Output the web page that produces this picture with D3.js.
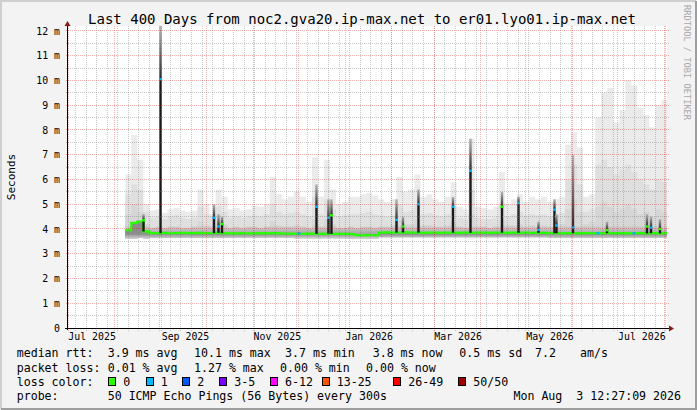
<!DOCTYPE html>
<html>
<head>
<meta charset="utf-8">
<script src="https://cdn.jsdelivr.net/npm/d3@7"></script>
<style>
html, body { margin: 0; padding: 0; background: #f3f3f3; }
svg { display: block; font-family: "DejaVu Sans Mono", monospace; }
</style>
</head>
<body>
<svg id="chart" width="697" height="410"></svg>
<script>
// smoke data, 4-day bins starting 2025-08-08 (milliseconds)
const smokeMax = [6.2, 7.8, 6.8, 5.0, 4.75, 4.8, 4.65, 4.8, 4.85, 4.75,
  4.7, 4.75, 5.6, 5.0, 4.6, 5.6, 5.3, 4.8, 4.85, 4.75,
  4.8, 4.95, 4.9, 5.0, 6.1, 5.4, 5.2, 5.3, 5.5, 5.3,
  5.1, 6.9, 5.3, 6.8, 5.6, 5.0, 5.1, 5.3, 5.3, 5.4,
  5.45, 5.35, 5.2, 5.1, 5.2, 6.1, 5.5, 5.6, 6.2, 5.3,
  5.4, 5.2, 5.1, 5.3, 5.9, 4.9, 4.8, 7.65, 4.9, 4.85,
  4.8, 4.9, 6.3, 5.0, 5.2, 5.4, 5.1, 5.3, 5.2, 5.3,
  5.1, 5.2, 5.3, 7.4, 7.9, 7.3, 5.3, 5.4, 8.5, 9.5,
  9.7, 8.3, 8.8, 10.0, 9.8, 8.9, 8.6, 8.1, 9.0, 9.2];
const smokeUpper = [5.4, 5.8, 5.6, 4.7, 4.45, 4.5, 4.4, 4.5, 4.55, 4.45,
  4.4, 4.45, 4.9, 4.6, 4.5, 4.9, 4.7, 4.45, 4.5, 4.45,
  4.5, 4.55, 4.5, 4.6, 5.0, 4.7, 4.6, 4.65, 4.7, 4.6,
  4.5, 5.3, 4.6, 5.2, 4.8, 4.5, 4.55, 4.6, 4.6, 4.65,
  4.7, 4.6, 4.55, 4.5, 4.55, 5.0, 4.7, 4.75, 5.0, 4.6,
  4.65, 4.55, 4.5, 4.6, 4.9, 4.45, 4.4, 5.6, 4.45, 4.4,
  4.4, 4.45, 5.0, 4.5, 4.6, 4.7, 4.55, 4.6, 4.55, 4.6,
  4.5, 4.6, 4.65, 6.0, 6.6, 5.8, 4.7, 4.8, 6.6, 6.8,
  6.5, 6.2, 6.4, 6.6, 6.3, 6.0, 5.8, 5.6, 6.0, 5.9];
const smokeInner = [4.6, 5.0, 4.7, 4.2, 4.05, 4.1, 4.05, 4.1, 4.1, 4.05,
  4.05, 4.1, 4.3, 4.15, 4.1, 4.3, 4.2, 4.05, 4.1, 4.05,
  4.1, 4.1, 4.05, 4.1, 4.3, 4.15, 4.1, 4.1, 4.15, 4.1,
  4.05, 4.4, 4.1, 4.4, 4.2, 4.05, 4.05, 4.1, 4.05, 4.1,
  4.1, 4.05, 4.1, 4.1, 4.15, 4.35, 4.2, 4.2, 4.4, 4.15,
  4.15, 4.1, 4.1, 4.15, 4.3, 4.1, 4.05, 4.6, 4.1, 4.1,
  4.05, 4.1, 4.35, 4.15, 4.15, 4.2, 4.1, 4.15, 4.1, 4.15,
  4.1, 4.15, 4.2, 4.8, 5.2, 4.7, 4.2, 4.3, 4.9, 5.1,
  4.9, 4.7, 4.8, 5.0, 4.8, 4.6, 4.7, 4.5, 4.8, 4.7];
const smokeLow = [3.62, 3.62, 3.64, 3.62, 3.65, 3.65, 3.65, 3.65, 3.65, 3.65,
  3.65, 3.65, 3.65, 3.65, 3.65, 3.65, 3.65, 3.65, 3.64, 3.64,
  3.64, 3.64, 3.64, 3.64, 3.64, 3.64, 3.64, 3.64, 3.63, 3.63,
  3.63, 3.63, 3.63, 3.63, 3.63, 3.63, 3.63, 3.62, 3.6, 3.6,
  3.6, 3.6, 3.67, 3.67, 3.67, 3.67, 3.67, 3.67, 3.67, 3.67,
  3.67, 3.67, 3.67, 3.67, 3.67, 3.67, 3.67, 3.67, 3.67, 3.67,
  3.67, 3.67, 3.67, 3.67, 3.67, 3.67, 3.67, 3.67, 3.67, 3.67,
  3.65, 3.65, 3.65, 3.65, 3.65, 3.65, 3.65, 3.65, 3.65, 3.65,
  3.65, 3.65, 3.65, 3.65, 3.65, 3.65, 3.65, 3.65, 3.65, 3.65];
const median = [3.95, 4.25, 4.3, 3.9, 3.83, 3.83, 3.84, 3.83, 3.83, 3.84,
  3.83, 3.83, 3.84, 3.83, 3.83, 3.84, 3.83, 3.82, 3.82, 3.83,
  3.82, 3.82, 3.83, 3.82, 3.83, 3.82, 3.81, 3.81, 3.8, 3.8,
  3.81, 3.8, 3.8, 3.81, 3.8, 3.8, 3.8, 3.79, 3.75, 3.74,
  3.75, 3.75, 3.85, 3.86, 3.85, 3.85, 3.86, 3.85, 3.85, 3.84,
  3.85, 3.85, 3.84, 3.85, 3.85, 3.84, 3.85, 3.84, 3.85, 3.85,
  3.84, 3.85, 3.85, 3.84, 3.85, 3.84, 3.85, 3.84, 3.84, 3.84,
  3.83, 3.83, 3.82, 3.83, 3.83, 3.82, 3.83, 3.83, 3.82, 3.83,
  3.83, 3.82, 3.83, 3.82, 3.83, 3.83, 3.82, 3.83, 3.82, 3.83];

// short bursts: median of the burst, top of the dark smoke above it, loss class
const spikeDates = ["2025-08-20T03:00", "2025-08-31T10:00", "2025-10-05T22:00", "2025-10-08T22:00",
  "2025-10-11T05:30", "2025-12-01T08:30", "2025-12-12T23:00", "2025-12-20T22:00", "2025-12-22T22:00",
  "2026-02-04T02:00", "2026-02-08T09:00", "2026-02-18T16:00", "2026-03-13T14:00", "2026-03-25T05:00",
  "2026-04-15T03:00", "2026-04-26T02:00", "2026-05-09T08:30", "2026-05-19T23:00", "2026-05-21T07:00",
  "2026-06-01T06:00", "2026-06-17T20:00", "2026-06-23T20:00", "2026-07-11T18:00", "2026-07-20T09:00",
  "2026-07-23T01:00", "2026-07-29T00:00"];
const spikeMed = [4.35, 10.05, 4.45, 4.1, 4.2, 3.82, 4.9, 4.45, 4.55, 4.37, 4.1, 5.0, 4.9, 6.35,
  4.9, 5.05, 3.97, 4.78, 4.14, 4.06, 3.83, 3.95, 3.83, 4.1, 4.05, 4.0];
const spikeTop = [4.6, 12.2, 5.0, 4.6, 4.5, 3.82, 5.8, 5.2, 5.2, 5.2, 4.5, 5.6, 5.3, 7.65,
  5.5, 5.3, 4.3, 5.2, 4.6, 7.0, 3.83, 4.3, 3.83, 4.6, 4.5, 4.4];
const spikeLoss = [0, 1, 1, 1, 0, 1, 1, 1, 0, 1, 0, 1, 1, 1, 0, 1, 1, 1, 1, 1, 1, 0, 1, 0, 1, 0];

const yTicks = d3.range(0, 13);
const lossColors = ["#26ff00", "#00b8ff", "#0059ff", "#7e00ff", "#ff00ff", "#ff5500", "#ff0000", "#a10000"];
const lossLabels = ["0", "1", "2", "3-5", "6-12", "13-25", "26-49", "50/50"];
const rttStats = ["3.9 ms avg", "10.1 ms max", "3.7 ms min", "3.8 ms now", "0.5 ms sd", "7.2", "am/s"];
const lossStats = ["0.01 % avg", "1.27 % max", "0.00 % min", "0.00 % now"];

const svg = d3.select("#chart");
const plot = { left: 67, right: 667, top: 26, bottom: 328 };

const x = d3.scaleTime()
  .domain([new Date(2025, 5, 30, 8), new Date(2026, 7, 2, 16)])
  .range([plot.left, plot.right]);
const y = d3.scaleLinear().domain([0, 12.2]).range([plot.bottom, plot.top]);
const parse = d3.timeParse("%Y-%m-%dT%H:%M");

//background and 3d frame
svg.append("rect").attr("width", 697).attr("height", 410).attr("fill", "#f3f3f3");
svg.append("path").attr("d", "M1,409V1H696").attr("fill", "none").attr("stroke", "#cfcfcf").attr("stroke-width", 2);
svg.append("path").attr("d", "M1,409H696V1").attr("fill", "none").attr("stroke", "#9e9e9e").attr("stroke-width", 2);
svg.append("rect").attr("x", plot.left).attr("y", plot.top)
  .attr("width", plot.right - plot.left).attr("height", plot.bottom - plot.top).attr("fill", "#fff");

const defs = svg.append("defs");
defs.append("clipPath").attr("id", "clip").append("rect")
  .attr("x", plot.left).attr("y", plot.top)
  .attr("width", plot.right - plot.left).attr("height", plot.bottom - plot.top);
function vGrad(id, y1, y2, c1, c2) {
  const lg = defs.append("linearGradient").attr("id", id)
    .attr("gradientUnits", "userSpaceOnUse")
    .attr("x1", 0).attr("x2", 0).attr("y1", y1).attr("y2", y2);
  lg.append("stop").attr("offset", 0).attr("stop-color", c1);
  lg.append("stop").attr("offset", 1).attr("stop-color", c2);
}
vGrad("innerGrad", y(3.8), y(4.15), "#a4a4a4", "#d6d6d6");
vGrad("lowGrad", y(3.8), y(3.62), "#8c8c8c", "#d0d0d0");
const sg = defs.append("linearGradient").attr("id", "spikeGrad")
  .attr("x1", 0).attr("x2", 0).attr("y1", 1).attr("y2", 0);
sg.append("stop").attr("offset", 0).attr("stop-color", "#2a2a2a");
sg.append("stop").attr("offset", 1).attr("stop-color", "#b4b4b4");

//dotted grid as 1px pixel patterns
function dots(id, w, h, color) {
  defs.append("pattern").attr("id", id).attr("patternUnits", "userSpaceOnUse")
    .attr("width", w).attr("height", h)
    .append("rect").attr("width", 1).attr("height", 1).attr("fill", color);
}
const minorCol = "rgba(120,120,120,0.4)", majorCol = "rgba(235,0,0,0.3)";
dots("hMinor", 2, 1, minorCol);
dots("vMinor", 1, 2, minorCol);
dots("hMajor", 2, 1, majorCol);
dots("vMajor", 1, 2, majorCol);

//build the bins
const firstBin = new Date(2025, 7, 8);
const bins = smokeMax.map((v, i) => ({
  date: d3.timeDay.offset(firstBin, 4 * i),
  max: v, upper: smokeUpper[i], inner: smokeInner[i], low: smokeLow[i], median: median[i]
}));
bins.push(Object.assign({}, bins[bins.length - 1], { date: x.domain()[1] }));

const g = svg.append("g").attr("clip-path", "url(#clip)");
function band(lo, hi, fill) {
  g.append("path").datum(bins)
    .attr("fill", fill)
    .attr("d", d3.area().curve(d3.curveStepAfter)
      .x(d => x(d.date)).y0(d => y(d[lo])).y1(d => y(d[hi])));
}
band("low", "max", "#ebebeb");
band("low", "upper", "#dfdfdf");
band("low", "inner", "url(#innerGrad)");
band("low", "median", "url(#lowGrad)");

//grid
const gridG = svg.append("g").attr("shape-rendering", "crispEdges");
function hLine(v, fill) {
  gridG.append("rect").attr("x", plot.left - 2).attr("width", plot.right - plot.left + 5)
    .attr("y", Math.floor(y(v))).attr("height", 1).attr("fill", fill);
}
function vLine(d, fill) {
  gridG.append("rect").attr("x", Math.floor(x(d))).attr("width", 1)
    .attr("y", plot.top).attr("height", plot.bottom - plot.top + 3).attr("fill", fill);
}
d3.range(0.5, 12.5, 1).forEach(v => hLine(v, "url(#hMinor)"));
d3.timeSunday.range(x.domain()[0], x.domain()[1]).forEach(d => vLine(d, "url(#vMinor)"));
yTicks.forEach(v => hLine(v, "url(#hMajor)"));
const months = d3.timeMonth.range(x.domain()[0], x.domain()[1]);
months.forEach(d => vLine(d, "url(#vMajor)"));

//median line
g.append("path").datum(bins)
  .attr("fill", "none").attr("stroke", lossColors[0]).attr("stroke-width", 2.2)
  .attr("d", d3.line().curve(d3.curveStepAfter).x(d => x(d.date)).y(d => y(d.median)));

//bursts
const binAt = d3.bisector(d => d.date).right;
spikeDates.forEach((s, i) => {
  const t = parse(s);
  const cx = x(t);
  const base = bins[Math.max(0, binAt(bins, t) - 1)].median;
  if (spikeTop[i] > spikeMed[i]) {
    g.append("rect").attr("x", cx - 1.2).attr("width", 2.4)
      .attr("y", y(spikeTop[i])).attr("height", y(spikeMed[i]) - y(spikeTop[i]))
      .attr("fill", "url(#spikeGrad)");
  }
  if (spikeMed[i] > base) {
    g.append("rect").attr("x", cx - 1.2).attr("width", 2.4)
      .attr("y", y(spikeMed[i])).attr("height", y(base) - y(spikeMed[i]))
      .attr("fill", "#1a1a1a");
  }
  g.append("line").attr("x1", cx - 1.5).attr("x2", cx + 1.5)
    .attr("y1", y(spikeMed[i])).attr("y2", y(spikeMed[i]))
    .attr("stroke", lossColors[spikeLoss[i]]).attr("stroke-width", 2.4);
});

//axes with arrows
svg.append("line").attr("x1", plot.left - 2).attr("x2", plot.right + 2)
  .attr("y1", plot.bottom + 0.5).attr("y2", plot.bottom + 0.5).attr("stroke", "#000");
svg.append("line").attr("x1", plot.left + 0.5).attr("x2", plot.left + 0.5)
  .attr("y1", plot.bottom + 2).attr("y2", plot.top - 1).attr("stroke", "#000");
svg.append("path").attr("d", `M${plot.left + 0.5},${plot.top - 5}l-3,5h6z`).attr("fill", "#8b1a1a");
svg.append("path").attr("d", `M${plot.right + 7},${plot.bottom + 0.5}l-5,-3v6z`).attr("fill", "#8b1a1a");

//tick labels
svg.append("g").selectAll("text").data(yTicks).join("text")
  .attr("x", 60).attr("y", d => y(d) + 3.6)
  .attr("text-anchor", "end").attr("font-size", 9.9)
  .text(d => d === 0 ? "0" : d + " m");
svg.append("g").selectAll("text").data(months.filter(d => d.getMonth() % 2 === 0)).join("text")
  .attr("x", d => x(d) + 0.3).attr("y", 340)
  .attr("font-size", 9.9)
  .text(d3.timeFormat("%b %Y"));

//titles
svg.append("text").attr("x", 362).attr("y", 24).attr("text-anchor", "middle")
  .attr("font-size", 14).text("Last 400 Days from noc2.gva20.ip-max.net to er01.lyo01.ip-max.net");
svg.append("text").attr("transform", "translate(14.5,177) rotate(-90)").attr("text-anchor", "middle")
  .attr("font-size", 11).text("Seconds");
svg.append("text").attr("transform", "translate(683.5,5) rotate(90)")
  .attr("font-size", 8.7).attr("fill", "#a8a8a8").text("RRDTOOL / TOBI OETIKER");

//legend
const leg = svg.append("g").attr("font-size", 11.6);
const rows = [357.3, 371.7, 386, 400.3];
leg.append("text").attr("x", 16.7).attr("y", rows[0]).text("median rtt:");
[107.7, 194, 285, 372.7, 459.3, 535, 580].forEach((px, i) => {
  leg.append("text").attr("x", px).attr("y", rows[0]).text(rttStats[i]);
});
leg.append("text").attr("x", 16.7).attr("y", rows[1]).text("packet loss:");
[107.7, 194, 280, 366].forEach((px, i) => {
  leg.append("text").attr("x", px).attr("y", rows[1]).text(lossStats[i]);
});
leg.append("text").attr("x", 16.7).attr("y", rows[2]).text("loss color:");
[108.3, 145.7, 182.3, 219.3, 270, 321.7, 393.3, 458.3].forEach((px, i) => {
  leg.append("rect").attr("x", Math.round(px) + 0.5).attr("y", 377.5).attr("width", 7).attr("height", 8)
    .attr("fill", lossColors[i]).attr("stroke", "#000");
  leg.append("text").attr("x", px + 15).attr("y", rows[2]).text(lossLabels[i]);
});
leg.append("text").attr("x", 16.7).attr("y", rows[3]).text("probe:");
leg.append("text").attr("x", 107.7).attr("y", rows[3]).text("50 ICMP Echo Pings (56 Bytes) every 300s");
leg.append("text").attr("x", 681).attr("y", rows[3]).attr("text-anchor", "end")
  .style("white-space", "pre").text("Mon Aug  3 12:27:09 2026");
</script>
</body>
</html>
